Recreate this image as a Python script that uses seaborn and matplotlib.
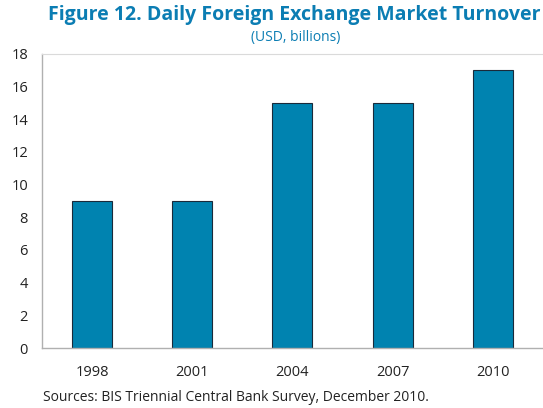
import pandas as pd
import seaborn as sns
import matplotlib.pyplot as plt

# chart data
years = ['1998', '2001', '2004', '2007', '2010']
turnover = [9, 9, 15, 15, 17]

data = pd.DataFrame({'year': years, 'turnover': turnover})

sns.set_style('white')
plt.rcParams['font.family'] = ['Open Sans', 'DejaVu Sans']

blue = '#0083b0'
title_blue = '#0b7db3'

fig = plt.figure(figsize=(5.43, 4.08), dpi=100)
ax = fig.add_axes([0.077, 0.147, 0.923, 0.721])

sns.barplot(data=data, x='year', y='turnover', color=blue, width=0.4,
            edgecolor='#1a2a3a', linewidth=0.8, saturation=1, ax=ax)

ax.set_ylim(0, 18)
ax.set_yticks(range(0, 19, 2))
ax.set_xlim(-0.5, 4.5)
ax.set_xlabel('')
ax.set_ylabel('')

ax.spines['right'].set_visible(False)
ax.spines['top'].set_color('#dadada')
for side in ['left', 'bottom']:
    ax.spines[side].set_color('#b0b0b0')
    ax.spines[side].set_linewidth(1)

ax.tick_params(axis='y', direction='in', length=4, color='#d0d0d0',
               labelsize=10.5, labelcolor='#222222', pad=10)
ax.tick_params(axis='x', length=0, labelsize=10.5, labelcolor='#222222', pad=12)
# category separators on the x axis
ax.set_xticks([0.5, 1.5, 2.5, 3.5], minor=True)
ax.tick_params(axis='x', which='minor', direction='in', length=4, color='#d0d0d0')

fig.text(0.995, 0.963, 'Figure 12. Daily Foreign Exchange Market Turnover',
         ha='right', va='center', fontsize=14, fontweight='bold', color=title_blue)
fig.text(0.545, 0.907, '(USD, billions)', ha='center', va='center',
         fontsize=10, color=title_blue)
fig.text(0.08, 0.025, 'Sources: BIS Triennial Central Bank Survey, December 2010.',
         ha='left', va='center', fontsize=10, color='#222222')

plt.savefig('out.png', dpi=100)
